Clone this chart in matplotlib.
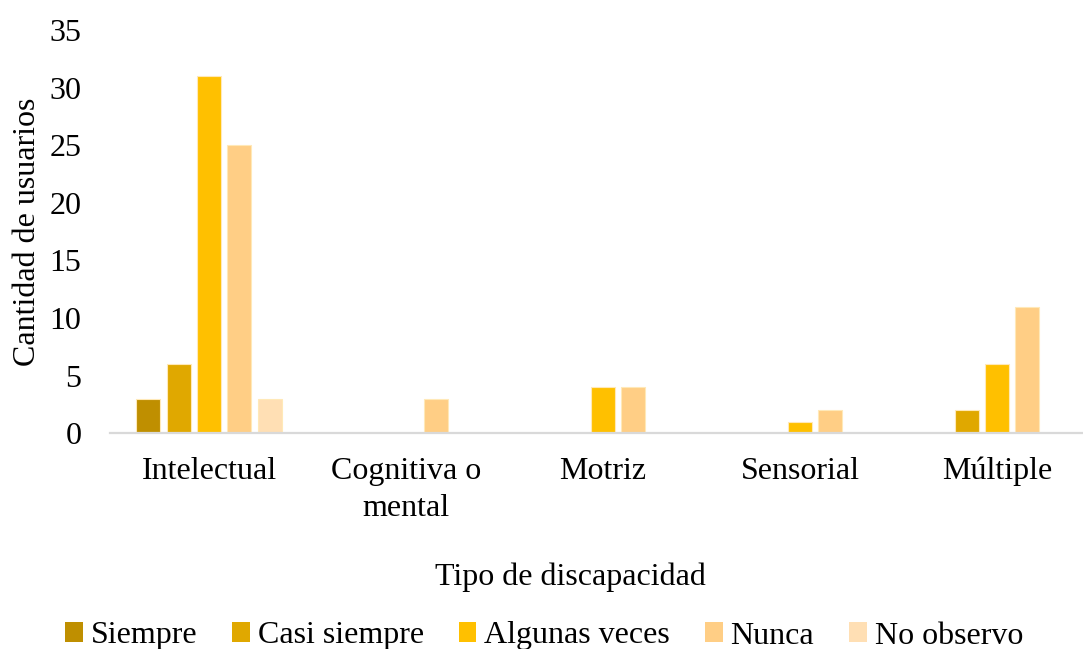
import matplotlib
matplotlib.use("Agg")
import matplotlib.pyplot as plt
import numpy as np
from matplotlib.patches import Patch

plt.rcParams['font.family'] = ['Liberation Serif', 'DejaVu Serif']

categories = ["Intelectual", "Cognitiva o\nmental", "Motriz", "Sensorial", "Múltiple"]
series_names = ["Siempre", "Casi siempre", "Algunas veces", "Nunca", "No observo"]
siempre = [3, 0, 0, 0, 0]
casi_siempre = [6, 0, 0, 0, 2]
algunas_veces = [31, 0, 4, 1, 6]
nunca = [25, 3, 4, 2, 11]
no_observo = [3, 0, 0, 0, 0]
series_values = [siempre, casi_siempre, algunas_veces, nunca, no_observo]
colors = ["#BF8F00", "#E0A800", "#FFC000", "#FFCE85", "#FFDFB4"]

FS = 23

fig = plt.figure(figsize=(10.83, 6.49), dpi=100)
ax = fig.add_axes([0.102, 0.3324, 0.9095, 0.6214])

x = np.arange(len(categories))
pitch = 0.154
width = 0.122
for i, (vals, col) in enumerate(zip(series_values, colors)):
    offs = (i - 2) * pitch
    ax.bar(x + offs, vals, width=width, color=col, edgecolor="#FFE9B8",
           linewidth=0.8, zorder=2)

ax.set_xlim(-0.5, len(categories) - 0.5)
ax.set_ylim(0, 35)
ax.set_yticks(np.arange(0, 36, 5))
ax.set_xticks(x)
ax.set_xticklabels(categories, fontsize=FS, linespacing=1.35)
ax.tick_params(axis='y', labelsize=FS, length=0, pad=21)
ax.tick_params(axis='x', length=0, pad=17)
for s in ["top", "right", "left"]:
    ax.spines[s].set_visible(False)
ax.spines["bottom"].set_color("#D9D9D9")
ax.spines["bottom"].set_linewidth(1.6)
ax.set_ylabel("Cantidad de usuarios", fontsize=FS, labelpad=5)

fig.text(570 / 1083, 1 - 577 / 649, "Tipo de discapacidad", fontsize=FS,
         ha="center", va="center")

handles = [Patch(facecolor=c, edgecolor="none") for c in colors]
fig.legend(handles, series_names, loc="center", ncol=5,
           bbox_to_anchor=(544 / 1083, 1 - 636 / 649), frameon=False,
           fontsize=FS, handlelength=0.56, handleheight=0.56,
           handletextpad=0.25, columnspacing=1.08, borderpad=0)

fig.savefig("out.png", dpi=100)
